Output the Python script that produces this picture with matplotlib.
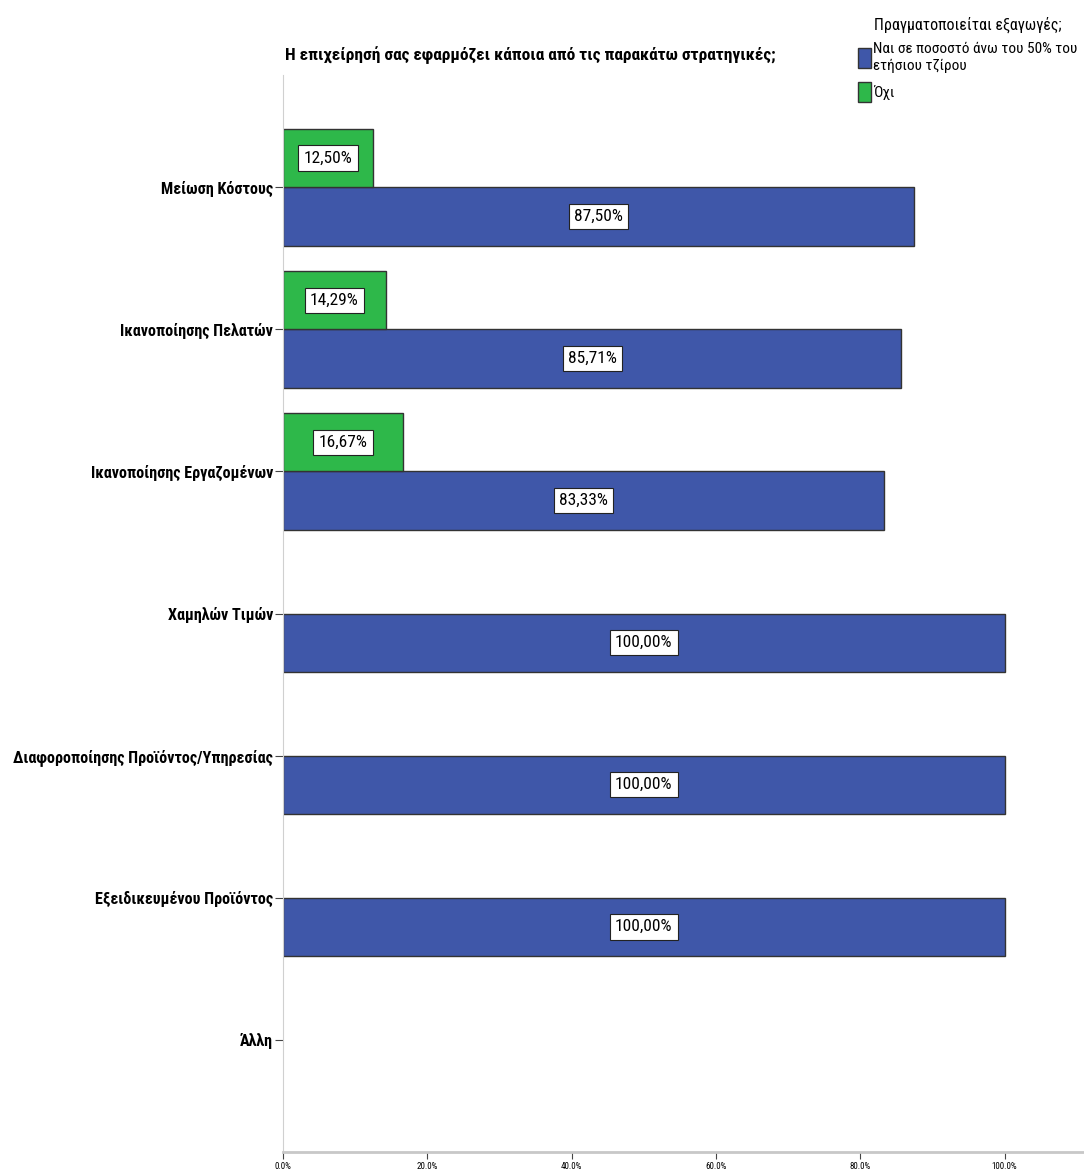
import matplotlib.pyplot as plt
from matplotlib.patches import Patch

plt.rcParams['font.family'] = ['Roboto Condensed', 'DejaVu Sans']

categories = ['Μείωση Κόστους', 'Ικανοποίησης Πελατών', 'Ικανοποίησης Εργαζομένων',
              'Χαμηλών Τιμών', 'Διαφοροποίησης Προϊόντος/Υπηρεσίας',
              'Εξειδικευμένου Προϊόντος', 'Άλλη']
yes_vals = [87.50, 85.71, 83.33, 100.00, 100.00, 100.00, 0]
no_vals = [12.50, 14.29, 16.67, 0, 0, 0, 0]
xticks = [0, 20, 40, 60, 80, 100]
xtick_labels = ['0.0%', '20.0%', '40.0%', '60.0%', '80.0%', '100.0%']

blue = '#3f57a9'
green = '#2eb84a'

fig = plt.figure(figsize=(10.84, 11.76), dpi=100)
ax = fig.add_axes([0.261, 0.0204, 0.739, 0.9158])

pos = list(range(len(categories)))
h = 0.41

def fmt(v):
    return f'{v:.2f}'.replace('.', ',') + '%'

for i, (y_v, n_v) in enumerate(zip(yes_vals, no_vals)):
    if y_v > 0:
        ax.barh(i + h / 2, y_v, height=h, color=blue, edgecolor='#333333', linewidth=1)
        ax.text(y_v / 2, i + h / 2, fmt(y_v), ha='center', va='center', fontsize=12.5,
                bbox=dict(boxstyle='square,pad=0.3', fc='white', ec='#222222', lw=0.8))
    if n_v > 0:
        ax.barh(i - h / 2, n_v, height=h, color=green, edgecolor='#333333', linewidth=1)
        ax.text(n_v / 2, i - h / 2, fmt(n_v), ha='center', va='center', fontsize=12.5,
                bbox=dict(boxstyle='square,pad=0.3', fc='white', ec='#222222', lw=0.8))

ax.set_ylim(len(categories) - 1 + 0.79, -0.79)
ax.set_xlim(0, 111)
ax.set_yticks(pos)
ax.set_yticklabels(categories, fontsize=11.6, fontweight='bold')
ax.set_xticks(xticks)
ax.set_xticklabels(xtick_labels, fontsize=6.5)
ax.tick_params(axis='y', length=6, color='#444444', pad=1)
ax.tick_params(axis='x', length=5, color='#444444', pad=2)

for s in ['top', 'right']:
    ax.spines[s].set_visible(False)
ax.spines['left'].set_color('#d0d0d0')
ax.spines['bottom'].set_color('#c8c8c8')
ax.spines['bottom'].set_linewidth(2)

fig.text(0.263, 0.953, 'Η επιχείρησή σας εφαρμόζει κάποια από τις παρακάτω στρατηγικές;',
         fontsize=12.5, fontweight='bold', ha='left', va='center')

handles = [Patch(facecolor=blue, edgecolor='#333333', label='Ναι σε ποσοστό άνω του 50% του\nετήσιου τζίρου'),
           Patch(facecolor=green, edgecolor='#333333', label='Όχι')]
leg = fig.legend(handles=handles, title='Πραγματοποιείται εξαγωγές;', loc='upper left',
                 bbox_to_anchor=(0.782, 0.995), frameon=False, fontsize=11,
                 title_fontsize=11.5, handlelength=0.8, handleheight=1.7,
                 handletextpad=0.15, labelspacing=0.6, borderpad=0.2)

fig.savefig('out.png', dpi=100)
